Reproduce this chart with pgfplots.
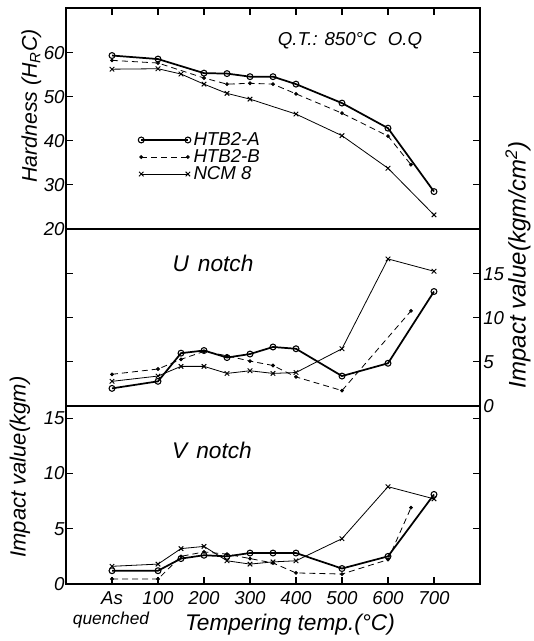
\documentclass[border=0pt]{standalone}
\usepackage{pgfplots}
\pgfplotsset{compat=1.18}
\usepackage{fontspec}
\setmainfont{Liberation Sans}

\pgfplotsset{
  panel/.style={
    scale only axis,
    width=310.5pt,
    xmin=-100, xmax=800,
    axis line style={line width=1pt},
    tick style={line width=0.8pt, black},
    major tick length=5pt,
    tick align=inside,
    ticklabel style={font=\fontsize{14}{16}\selectfont\itshape},
    /pgf/number format/assume math mode=true,
  },
  serA/.style={black, line width=1.3pt, mark=o, mark size=2.2pt,
    mark options={solid, fill=white, line width=0.8pt}},
  serB/.style={black, line width=0.6pt, dash pattern=on 4.5pt off 3pt,
    mark=*, mark size=1.1pt, mark options={solid}},
  serC/.style={black, line width=0.6pt, mark=x, mark size=2.4pt,
    mark options={solid, line width=0.7pt}},
}

\begin{document}
\begin{tikzpicture}
\useasboundingbox (0,0) rectangle (399.75pt,480.75pt);

% hardness
\begin{axis}[panel,
    at={(49.5pt,309pt)}, anchor=south west,
    height=165.75pt,
    ymin=20, ymax=70.2,
    ytick={20,30,40,50,60},
    ytick pos=both, yticklabel pos=left,
    yticklabel style={xshift=2.5pt},
    xtick={0,100,...,700}, xtick pos=right, xticklabels={},
    legend style={at={(0.174,0.45)}, anchor=north west, draw=none, fill=none,
        font=\fontsize{14}{16}\selectfont\itshape, row sep=-2.5pt, inner sep=0pt},
    legend cell align=left,
    legend image code/.code={\draw[#1] plot coordinates {(0pt,0pt) (35pt,0pt)};},
]
\addplot[serA] coordinates {(0,59.4)(100,58.6)(200,55.4)(250,55.3)(300,54.6)(350,54.6)(400,52.9)(500,48.6)(600,42.9)(700,28.5)};
\addlegendentry{HTB2-A}
\addplot[serB] coordinates {(0,58.3)(100,57.7)(200,54.3)(250,52.9)(300,53.1)(350,52.9)(400,50.7)(500,46.3)(600,41.1)(650,34.6)};
\addlegendentry{HTB2-B}
\addplot[serC] coordinates {(0,56.3)(100,56.4)(150,55.2)(200,52.9)(250,50.8)(300,49.5)(400,46.1)(500,41.2)(600,33.8)(700,23.2)};
\addlegendentry{NCM 8}
\end{axis}

% U notch
\begin{axis}[panel,
    at={(49.5pt,176.25pt)}, anchor=south west,
    height=132.75pt,
    ymin=0, ymax=20.1,
    ytick={0,5,10,15},
    ytick pos=both, yticklabel pos=right,
    yticklabel style={xshift=-1pt},
    xtick=\empty,
]
\addplot[serA] coordinates {(0,2.0)(100,2.8)(150,6.0)(200,6.3)(250,5.5)(300,5.9)(350,6.7)(400,6.5)(500,3.4)(600,4.85)(700,13.0)};
\addplot[serB] coordinates {(0,3.6)(100,4.2)(150,5.3)(200,6.2)(250,5.7)(300,5.1)(350,4.6)(400,3.3)(500,1.75)(650,10.8)};
\addplot[serC] coordinates {(0,2.8)(100,3.4)(150,4.5)(200,4.5)(250,3.7)(300,4.0)(350,3.7)(400,3.8)(500,6.5)(600,16.7)(700,15.3)};
\end{axis}

% V notch
\begin{axis}[panel,
    at={(49.5pt,42.75pt)}, anchor=south west,
    height=133.5pt,
    ymin=0, ymax=16.1,
    ytick={0,5,10,15},
    ytick pos=both, yticklabel pos=left,
    yticklabel style={xshift=2.5pt},
    xtick={0,100,...,700}, xtick pos=left,
    xticklabel style={yshift=-2pt},
    xticklabels={As,100,200,300,400,500,600,700},
]
\addplot[serA] coordinates {(0,1.2)(100,1.2)(150,2.3)(200,2.6)(250,2.5)(300,2.8)(350,2.8)(400,2.8)(500,1.4)(600,2.5)(700,8.1)};
\addplot[serB] coordinates {(0,0.45)(100,0.45)(150,2.5)(200,2.9)(250,2.7)(300,2.3)(350,1.9)(400,1.0)(500,0.9)(600,2.2)(650,6.9)};
\addplot[serC] coordinates {(0,1.6)(100,1.8)(150,3.2)(200,3.4)(250,2.1)(300,1.8)(350,2.0)(400,2.1)(500,4.1)(600,8.8)(700,7.7)};
\end{axis}

% labels
\node[font=\fontsize{14}{16}\selectfont\itshape] at (262.5pt,450pt) {Q.T.: 850°C\hspace{0.6em}O.Q};
\node[font=\fontsize{17}{20}\selectfont\itshape] at (159.75pt,283.5pt) {U\hspace{0.4em}notch};
\node[font=\fontsize{17}{20}\selectfont\itshape] at (159pt,143.25pt) {V\hspace{0.4em}notch};
\node[rotate=90, font=\fontsize{16}{18}\selectfont\itshape] at (23.5pt,401.25pt) {Hardness (H\textsubscript{R}C)};
\node[rotate=90, font=\fontsize{16.5}{18}\selectfont\itshape] at (15pt,130.5pt) {Impact value(kgm)};
\node[rotate=90, font=\fontsize{18}{20}\selectfont\itshape] at (388.5pt,282pt) {Impact value(kgm/cm\textsuperscript{2})};
\node[font=\fontsize{13}{15}\selectfont\itshape] at (83.25pt,16pt) {quenched};
\node[font=\fontsize{17}{19}\selectfont\itshape] at (217.5pt,12pt) {Tempering temp.(°C)};
\end{tikzpicture}
\end{document}
